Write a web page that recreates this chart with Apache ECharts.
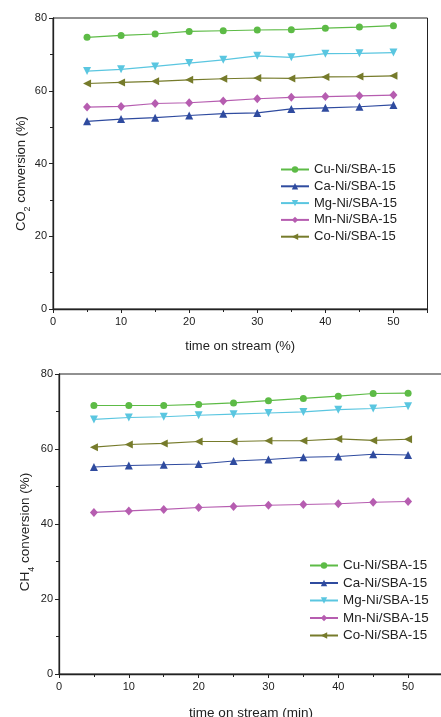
<!DOCTYPE html>
<html>
<head>
<meta charset="utf-8">
<script src="https://cdn.jsdelivr.net/npm/echarts@6/dist/echarts.min.js"></script>
<style>
  html, body { margin: 0; padding: 0; background: #fff; }
  #chart { width: 441px; height: 717px; }
</style>
</head>
<body>
<div id="chart"></div>
<script>
// Time on stream (min)
const times = [5, 10, 15, 20, 25, 30, 35, 40, 45, 50];

const catalysts = ['Cu-Ni/SBA-15', 'Ca-Ni/SBA-15', 'Mg-Ni/SBA-15', 'Mn-Ni/SBA-15', 'Co-Ni/SBA-15'];

// CO2 conversion (%)
const co2Cu = [74.7, 75.2, 75.6, 76.3, 76.5, 76.7, 76.8, 77.2, 77.5, 77.9];
const co2Ca = [51.6, 52.2, 52.6, 53.2, 53.7, 53.9, 55.0, 55.3, 55.6, 56.1];
const co2Mg = [65.4, 65.9, 66.7, 67.6, 68.5, 69.6, 69.2, 70.2, 70.3, 70.5];
const co2Mn = [55.5, 55.7, 56.5, 56.7, 57.2, 57.8, 58.2, 58.4, 58.6, 58.8];
const co2Co = [62.0, 62.3, 62.6, 63.0, 63.3, 63.5, 63.4, 63.8, 63.9, 64.1];

// CH4 conversion (%)
const ch4Cu = [71.6, 71.6, 71.6, 71.9, 72.3, 72.9, 73.5, 74.1, 74.8, 74.9];
const ch4Ca = [55.2, 55.6, 55.8, 56.0, 56.8, 57.2, 57.8, 58.0, 58.6, 58.4];
const ch4Mg = [67.9, 68.4, 68.6, 69.0, 69.3, 69.6, 69.9, 70.5, 70.8, 71.4];
const ch4Mn = [43.1, 43.5, 43.9, 44.4, 44.7, 45.0, 45.2, 45.4, 45.8, 46.0];
const ch4Co = [60.5, 61.2, 61.5, 62.0, 62.0, 62.2, 62.2, 62.7, 62.3, 62.6];

const xTitles = ['time on stream (%)', 'time on stream (min)'];
const yTitles = ['CO{sub|2} conversion (%)', 'CH{sub|4} conversion (%)'];

const styles = [
  { color: '#5dbb46', symbol: 'circle', size: 7, rotate: 0 },
  { color: '#2f4b9f', symbol: 'triangle', size: 8, rotate: 0 },
  { color: '#5ac6e0', symbol: 'triangle', size: 8, rotate: 180 },
  { color: '#b65db0', symbol: 'diamond', size: [8, 9], rotate: 0 },
  { color: '#767b2b', symbol: 'triangle', size: 8, rotate: 90 }
];

const co2Sets = [co2Cu, co2Ca, co2Mg, co2Mn, co2Co];
const ch4Sets = [ch4Cu, ch4Ca, ch4Mg, ch4Mn, ch4Co];

const textColor = '#222';
const font = 'Liberation Sans, Arial, sans-serif';

function makeSeries(sets, gridIdx) {
  return sets.map((vals, i) => ({
    name: catalysts[i],
    type: 'line',
    xAxisIndex: gridIdx,
    yAxisIndex: gridIdx,
    data: vals.map((v, j) => [times[j], v]),
    symbol: styles[i].symbol,
    symbolSize: styles[i].size,
    symbolRotate: styles[i].rotate,
    showAllSymbol: true,
    itemStyle: { color: styles[i].color },
    lineStyle: { color: styles[i].color, width: 1.2 },
    emphasis: { disabled: true },
    animation: false
  }));
}

function xAxis(gridIdx) {
  return {
    type: 'value', gridIndex: gridIdx, min: 0, max: 55, interval: 10,
    name: xTitles[gridIdx], nameLocation: 'middle', nameGap: gridIdx === 0 ? 31 : 32,
    nameMoveOverlap: false,
    nameTextStyle: { fontSize: gridIdx === 0 ? 13 : 13.5, color: textColor, fontFamily: font },
    axisLine: { show: true, onZero: false, lineStyle: { color: '#222', width: 1.3 } },
    axisTick: { show: true, inside: false, length: 4, lineStyle: { color: '#222' } },
    minorTick: { show: true, splitNumber: 2, length: 3, lineStyle: { color: '#222' } },
    axisLabel: { fontSize: 11, color: textColor, fontFamily: font, margin: 7, showMaxLabel: false },
    splitLine: { show: false }
  };
}

function yAxis(gridIdx) {
  return {
    type: 'value', gridIndex: gridIdx, min: 0, max: 80, interval: 20,
    name: yTitles[gridIdx], nameLocation: 'middle', nameGap: gridIdx === 0 ? 25 : 27,
    nameMoveOverlap: false,
    nameTextStyle: {
      fontSize: gridIdx === 0 ? 13 : 13.5, color: textColor, fontFamily: font,
      padding: gridIdx === 0 ? [0, 20, 0, 0] : [0, 16, 0, 0],
      rich: { sub: { fontSize: 9, verticalAlign: 'bottom', padding: [0, 0, -4, 0], color: textColor, fontFamily: font } }
    },
    axisLine: { show: true, onZero: false, lineStyle: { color: '#222', width: 1.3 } },
    axisTick: { show: true, inside: false, length: 4, lineStyle: { color: '#222' } },
    minorTick: { show: true, splitNumber: 2, length: 3, lineStyle: { color: '#222' } },
    axisLabel: { fontSize: 11, color: textColor, fontFamily: font, margin: 6 },
    splitLine: { show: false }
  };
}

function legend(left, top, gap, size) {
  return {
    data: catalysts,
    orient: 'vertical',
    left: left, top: top,
    padding: 0,
    itemWidth: 28, itemHeight: 8, itemGap: gap,
    selectedMode: false,
    textStyle: { fontSize: size, color: textColor, fontFamily: font, lineHeight: 13 }
  };
}

const chart = echarts.init(document.getElementById('chart'), null, { renderer: 'canvas' });
chart.setOption({
  backgroundColor: '#fff',
  animation: false,
  grid: [
    { left: 53, top: 18, width: 374.5, height: 291, show: true, borderColor: '#222', borderWidth: 1, outerBoundsMode: 'none' },
    { left: 59, top: 374, width: 384, height: 300, show: true, borderColor: '#222', borderWidth: 1, outerBoundsMode: 'none' }
  ],
  xAxis: [xAxis(0), xAxis(1)],
  yAxis: [yAxis(0), yAxis(1)],
  legend: [legend(280, 163, 3.8, 13), legend(309, 559, 4.5, 13.4)],
  series: makeSeries(co2Sets, 0).concat(makeSeries(ch4Sets, 1))
});
</script>
</body>
</html>
